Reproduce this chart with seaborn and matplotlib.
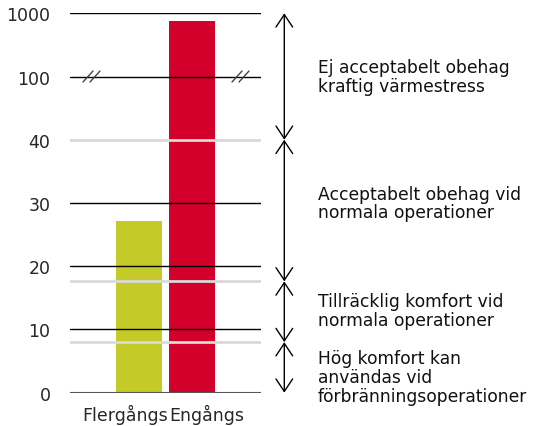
import numpy as np
import pandas as pd
import seaborn as sns
import matplotlib
matplotlib.use('Agg')
import matplotlib.pyplot as plt
from matplotlib.transforms import ScaledTranslation

# data
categories = ['Flergångs', 'Engångs']
values = [27.2, 890]
bar_colors = ['#c4cb28', '#d2002a']

tick_values = [0, 10, 20, 30, 40, 100, 1000]
tick_pos = np.arange(len(tick_values))
black_levels = [10, 20, 30, 100, 1000]
grey_levels = [8, 17.6, 40]

zone_edges = [0, 8, 17.6, 40, 1000]
zone_labels = ['Hög komfort kan\nanvändas vid\nförbränningsoperationer',
               'Tillräcklig komfort vid\nnormala operationer',
               'Acceptabelt obehag vid\nnormala operationer',
               'Ej acceptabelt obehag\nkraftig värmestress']
zone_label_y = [2.5, 13, 30, 100]


def fwd(v):
    return np.interp(v, tick_values, tick_pos)


def inv(p):
    return np.interp(p, tick_pos, tick_values)


sns.set_style('white')
plt.rcParams['font.family'] = ['DejaVu Sans']

fig = plt.figure(figsize=(5.39, 4.27), dpi=100)
ax = fig.add_axes([70 / 539, 1 - 393.7 / 427, 191 / 539, 379.4 / 427])
ax.set_yscale('function', functions=(fwd, inv))

df = pd.DataFrame({'kategori': categories, 'varde': values})
sns.barplot(data=df, x='kategori', y='varde', hue='kategori', palette=bar_colors,
            width=0.868, legend=False, ax=ax, saturation=1, linewidth=0)

for lv in black_levels:
    ax.axhline(lv, color='black', lw=1.0, zorder=3)
for lv in grey_levels:
    ax.axhline(lv, color='#d9d9d9', lw=2.0, zorder=3)
ax.axhline(0, color='#555555', lw=1.5, zorder=3)

ax.set_ylim(0, 1000)
ax.set_xlim(-1.302, 2.302)
ax.set_yticks(tick_values)
ax.set_yticklabels([str(t) for t in tick_values])
ax.tick_params(axis='y', length=0, pad=14, labelsize=12.5)
ax.tick_params(axis='x', length=0, pad=8, labelsize=12.5)
ax.set_xlabel('')
ax.set_ylabel('')
for s in ax.spines.values():
    s.set_visible(False)

# the two category labels sit edge to edge under the bars
xlabs = ax.get_xticklabels()
xlabs[0].set_horizontalalignment('right')
xlabs[0].set_transform(xlabs[0].get_transform() + ScaledTranslation(28.5 / 100, 0, fig.dpi_scale_trans))
xlabs[1].set_horizontalalignment('left')
xlabs[1].set_transform(xlabs[1].get_transform() + ScaledTranslation(-22.5 / 100, 0, fig.dpi_scale_trans))

# break marks on the 100 line
y100 = 5 / 6
dy = 5.5 / 379.4
for xs in [83, 232]:
    for off in [0, 7]:
        x0 = (xs + off - 70) / 191
        x1 = (xs + off + 10 - 70) / 191
        ax.plot([x0, x1], [y100 - dy, y100 + dy], color='#444444', lw=1.0,
                transform=ax.transAxes, clip_on=False, zorder=4)

# zone arrows
xa = (284.3 - 70) / 191
for lo, hi in zip(zone_edges[:-1], zone_edges[1:]):
    ax.annotate('', xy=(xa, hi), xytext=(xa, lo),
                xycoords=('axes fraction', 'data'), textcoords=('axes fraction', 'data'),
                annotation_clip=False,
                arrowprops=dict(arrowstyle='<->,head_length=0.45,head_width=0.3',
                                color='black', lw=1.0, shrinkA=0, shrinkB=0,
                                mutation_scale=20))

xt = (318 - 70) / 191
for lab, yy in zip(zone_labels, zone_label_y):
    ax.text(xt, yy, lab, transform=ax.get_yaxis_transform(), ha='left', va='center',
            fontsize=12.3, linespacing=1.05, color='#111111', clip_on=False)

fig.savefig('out.png', dpi=100)
